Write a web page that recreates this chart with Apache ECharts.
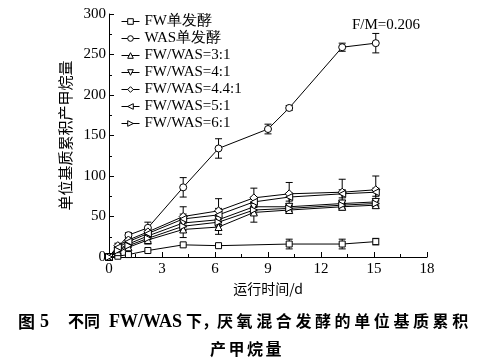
<!DOCTYPE html>
<html><head><meta charset="utf-8">
<script src="https://cdn.jsdelivr.net/npm/echarts@6/dist/echarts.min.js"></script>
<style>html,body{margin:0;padding:0;background:#fff}#c{width:496px;height:363px}</style>
</head><body><div id="c"></div>
<script>
var xTicks = [0, 3, 6, 9, 12, 15, 18];
var yTicks = [0, 50, 100, 150, 200, 250, 300];

var xFW  = [0, 0.5, 1.1, 2.2, 4.2, 6.2, 10.2, 13.2, 15.1];
var yFW  = [0, 1, 3, 8, 15, 14, 16, 16, 19];
var eFW  = [0, 0, 0, 1, 1, 1, 6, 6, 4];

var xWAS = [0, 0.5, 1.1, 2.2, 4.2, 6.2, 9, 10.2, 13.2, 15.1];
var yWAS = [0, 12, 27, 36, 86, 134, 158, 184, 259, 264];
var eWAS = [0, 2, 3, 7, 12, 12, 6, 3, 5, 12];

var xMix = [0, 0.5, 1.1, 2.2, 4.2, 6.2, 8.2, 10.2, 13.2, 15.1];
var y31  = [0, 6, 12, 21, 34, 37, 55, 58, 62, 64];
var e31  = [0, 2, 3, 5, 10, 9, 12, 4, 4, 4];
var y41  = [0, 9, 16, 26, 42, 46, 62, 62, 66, 68];
var e41  = [0, 2, 2, 4, 5, 6, 5, 4, 4, 4];
var y441 = [0, 14, 21, 31, 50, 57, 73, 78, 80, 83];
var e441 = [0, 3, 3, 5, 12, 15, 12, 14, 16, 17];
var y51  = [0, 12, 19, 29, 47, 52, 68, 74, 78, 80];
var e51  = [0, 2, 3, 4, 6, 8, 6, 5, 5, 5];
var y61  = [0, 8, 14, 23, 38, 43, 58, 60, 64, 66];
var e61  = [0, 2, 2, 4, 5, 5, 5, 4, 4, 4];

var names = ['FW单发酵', 'WAS单发酵', 'FW/WAS=3:1', 'FW/WAS=4:1', 'FW/WAS=4.4:1', 'FW/WAS=5:1', 'FW/WAS=6:1'];
var symbols = ['rect', 'circle', 'triangle', 'triangle', 'diamond', 'triangle', 'triangle'];
var rotates = [0, 0, 0, 180, 0, 90, -90];
var sizes = [6, 7, 7, 7, 8, 7, 7];
var xs = [xFW, xWAS, xMix, xMix, xMix, xMix, xMix];
var ys = [yFW, yWAS, y31, y41, y441, y51, y61];
var es = [eFW, eWAS, e31, e41, e441, e51, e61];

var serif = '"Liberation Serif", "Times New Roman", serif';
var cjk = '"Noto Sans CJK SC", sans-serif';

var series = [];
for (var k = 0; k < names.length; k++) {
  (function (k) {
    series.push({
      type: 'custom',
      silent: true,
      z: 1,
      encode: { x: 0, y: [1, 2] },
      data: xs[k].map(function (x, i) { return [x, ys[k][i] - es[k][i], ys[k][i] + es[k][i]]; }),
      renderItem: function (params, api) {
        var lo = api.coord([api.value(0), api.value(1)]);
        var hi = api.coord([api.value(0), api.value(2)]);
        if (Math.abs(lo[1] - hi[1]) < 2) return null;
        var w = 3.5, st = { stroke: '#000', lineWidth: 1 };
        return { type: 'group', children: [
          { type: 'line', shape: { x1: lo[0], y1: lo[1], x2: hi[0], y2: hi[1] }, style: st },
          { type: 'line', shape: { x1: lo[0] - w, y1: lo[1], x2: lo[0] + w, y2: lo[1] }, style: st },
          { type: 'line', shape: { x1: hi[0] - w, y1: hi[1], x2: hi[0] + w, y2: hi[1] }, style: st }
        ]};
      }
    });
    series.push({
      type: 'line',
      name: names[k],
      z: 3,
      data: xs[k].map(function (x, i) { return [x, ys[k][i]]; }),
      symbol: symbols[k],
      symbolRotate: rotates[k],
      symbolSize: sizes[k],
      showAllSymbol: true,
      lineStyle: { color: '#000', width: 1 },
      itemStyle: { color: '#fff', borderColor: '#000', borderWidth: 1 },
      emphasis: { disabled: true },
      animation: false
    });
  })(k);
}

var graphics = [];
graphics.push({ type: 'text', left: 352, top: 18, style: { text: 'F/M=0.206', font: '15px ' + serif, fill: '#000' } });
var capY = 313;
graphics.push({ type: 'text', left: 18, top: capY, style: { text: '图', font: 'bold 17px ' + cjk, fill: '#000' } });
graphics.push({ type: 'text', left: 40, top: capY, style: { text: '5', font: 'bold 18px ' + serif, fill: '#000' } });
graphics.push({ type: 'text', left: 68, top: capY, style: { text: '不同', font: 'bold 16px ' + cjk, fill: '#000' } });
graphics.push({ type: 'text', left: 109, top: capY, style: { text: 'FW/WAS', font: 'bold 18px ' + serif, fill: '#000' } });
graphics.push({ type: 'text', left: 186, top: capY, style: { text: '下，', font: 'bold 16px ' + cjk, fill: '#000' } });
var tail = '厌氧混合发酵的单位基质累积';
for (var c = 0; c < tail.length; c++) {
  graphics.push({ type: 'text', left: 217 + c * 19.6, top: capY, style: { text: tail[c], font: 'bold 16px ' + cjk, fill: '#000' } });
}
var l2 = '产甲烷量';
for (var c2 = 0; c2 < l2.length; c2++) {
  graphics.push({ type: 'text', left: 210 + c2 * 18.5, top: 341, style: { text: l2[c2], font: 'bold 16px ' + cjk, fill: '#000' } });
}

var chart = echarts.init(document.getElementById('c'), null, { renderer: 'canvas' });
chart.setOption({
  animation: false,
  backgroundColor: '#fff',
  grid: { left: 109, right: 69, top: 14, bottom: 106, containLabel: false },
  legend: {
    orient: 'vertical', left: 116, top: 9,
    itemWidth: 18, itemHeight: 7, itemGap: 2,
    data: names,
    itemStyle: { color: '#fff', borderColor: '#000', borderWidth: 1 },
    lineStyle: { color: '#000', width: 1 },
    textStyle: { fontFamily: serif, fontSize: 15, color: '#000' },
    inactiveColor: '#000',
    selectedMode: false
  },
  xAxis: {
    type: 'value', min: 0, max: 18, interval: 3,
    name: '运行时间/d', nameLocation: 'middle', nameGap: 25,
    nameTextStyle: { fontFamily: cjk, fontSize: 14, color: '#000' },
    axisLine: { show: true, onZero: false, lineStyle: { color: '#000', width: 1 } },
    axisTick: { inside: true, length: 5, lineStyle: { color: '#000' } },
    minorTick: { show: true, splitNumber: 2, length: 3, lineStyle: { color: '#000' } },
    splitLine: { show: false },
    axisLabel: { fontFamily: serif, fontSize: 15, color: '#000', margin: 5 }
  },
  yAxis: {
    type: 'value', min: 0, max: 300, interval: 50,
    name: '单位基质累积产甲烷量', nameLocation: 'middle', nameGap: 36, nameRotate: 90,
    nameTextStyle: { fontFamily: cjk, fontSize: 15, color: '#000' },
    axisLine: { show: true, lineStyle: { color: '#000', width: 1 } },
    axisTick: { inside: true, length: 5, lineStyle: { color: '#000' } },
    minorTick: { show: true, splitNumber: 2, length: 3, lineStyle: { color: '#000' } },
    splitLine: { show: false },
    axisLabel: { fontFamily: serif, fontSize: 15, color: '#000', margin: 3 }
  },
  graphic: graphics,
  series: series
});
</script></body></html>
